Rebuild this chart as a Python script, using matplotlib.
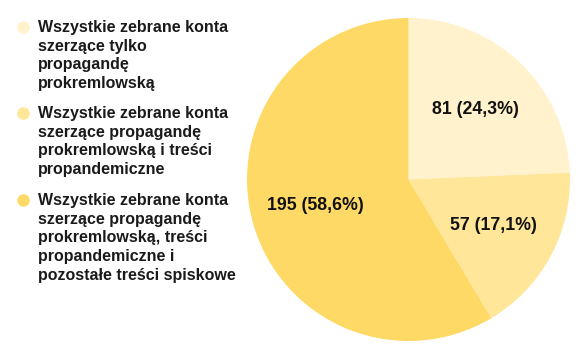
import matplotlib
matplotlib.use("Agg")
import matplotlib.pyplot as plt

labels = [
    "Wszystkie zebrane konta\nszerzące tylko\npropagandę\nprokremlowską",
    "Wszystkie zebrane konta\nszerzące propagandę\nprokremlowską i treści\npropandemiczne",
    "Wszystkie zebrane konta\nszerzące propagandę\nprokremlowską, treści\npropandemiczne i\npozostałe treści spiskowe",
]
values = [81, 57, 195]
pct_labels = ["81 (24,3%)", "57 (17,1%)", "195 (58,6%)"]
colors = ["#FFF2CC", "#FFE699", "#FFD966"]

plt.rcParams['font.family'] = ['Liberation Sans', 'DejaVu Sans']

W, H = 580, 359
fig = plt.figure(figsize=(W / 100, H / 100), dpi=100)
fig.patch.set_facecolor("white")

cx, cy, r = 408.5, 179.5, 161.5
ax = fig.add_axes([(cx - r) / W, (H - cy - r) / H, 2 * r / W, 2 * r / H])
wedges, texts = ax.pie(values, colors=colors, startangle=90, counterclock=False,
                       labels=pct_labels, labeldistance=0.6,
                       wedgeprops=dict(linewidth=0))
for t in texts:
    t.set_ha("center")
    t.set_va("center")
    t.set_fontsize(12.8)
    t.set_fontweight("bold")
    t.set_color("#111111")
ax.set_xlim(-1, 1)
ax.set_ylim(-1, 1)
ax.set_aspect("auto")
ax.axis("off")

# legend
centers = [27, 113, 200]
for lab, col, yc in zip(labels, colors, centers):
    fig.text(38 / W, 1 - (yc - 7) / H, lab, ha="left", va="top", fontsize=11.5,
             fontweight="bold", color="#1a1a1a", linespacing=1.31)
    fig.add_artist(plt.Line2D([23 / W], [1 - yc / H], marker="o", markersize=9,
                              markerfacecolor=col, markeredgewidth=0, linestyle="none",
                              transform=fig.transFigure))

fig.savefig("out.png", dpi=100)
